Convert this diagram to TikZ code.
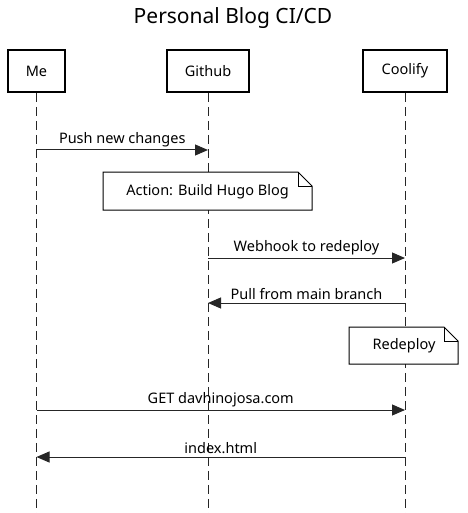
\documentclass[tikz,border=0pt]{standalone}
\usepackage{fontspec}
\setmainfont{Noto Sans}
\usetikzlibrary{calc, shapes, arrows.meta}

\begin{document}
\begin{tikzpicture}[x=1pt, y=-1pt,
actor/.style = {% participant boxes
    draw, line width=1.8pt, minimum width=57pt, minimum height=42pt,
    inner sep=0pt, font=\fontsize{14.5}{17}\selectfont,
            },
life/.style = {% lifelines
    draw=black!85, line width=1pt, dash pattern=on 9pt off 5pt,
            },
msg/.style = {% messages
    draw=black!85, line width=1pt, -{Triangle[length=13pt,width=11pt]},
            },
lbl/.style = {% message labels
    font=\fontsize{14.5}{17}\selectfont, inner sep=1pt,
            },
notetext/.style = {% note texts
    font=\fontsize{14.5}{17}\selectfont, inner sep=0pt,
            },
                        ]
\useasboundingbox (0,0) rectangle (467,513);
% title
\node[font=\fontsize{21}{25}\selectfont] (title) at (233,18) {Personal Blog CI/CD};
% participants
\node[actor] (me) at (36.5,71) {Me};
\node[actor, minimum width=82pt] (github) at (208,71) {Github};
\node[actor, minimum width=84pt] (coolify) at (405,71) {Coolify};
% lifelines
\foreach \p in {me, github, coolify}{
    \coordinate (\p-end) at (\p |- 0,513);
    \draw[life] (\p.south) -- (\p-end);
}
% notes
\draw[line width=1pt, fill=white] (103,172) -- (298,172) -- (312,186) -- (312,210) -- (103,210) -- cycle;
\draw[line width=1pt] (298,172) -- (298,186) -- (312,186);
\node[notetext] (build) at (207.5,192) {Action: Build Hugo Blog};
\draw[line width=1pt, fill=white] (349,327) -- (444,327) -- (458,341) -- (458,364) -- (349,364) -- cycle;
\draw[line width=1pt] (444,327) -- (444,341) -- (458,341);
\node[notetext] (redeploy) at (404,346) {Redeploy};
% message end points
\coordinate (push-a) at (me |- 0,150);
\coordinate (push-b) at (github |- 0,150);
\coordinate (hook-a) at (github |- 0,258);
\coordinate (hook-b) at (coolify |- 0,258);
\coordinate (pull-a) at (coolify |- 0,303);
\coordinate (pull-b) at (github |- 0,303);
\coordinate (get-a) at (me |- 0,410);
\coordinate (get-b) at (coolify |- 0,410);
\coordinate (index-a) at (coolify |- 0,457);
\coordinate (index-b) at (me |- 0,457);
% messages
\draw[msg] (push-a) -- node[lbl, above=2pt] {Push new changes} (push-b);
\draw[msg] (hook-a) -- node[lbl, above=2pt] {Webhook to redeploy} (hook-b);
\draw[msg] (pull-a) -- node[lbl, above=2pt] {Pull from main branch} (pull-b);
\draw[msg] (get-a) -- node[lbl, above=2pt] {GET davhinojosa.com} (get-b);
\draw[msg] (index-a) -- node[lbl, above=2pt] {index.html} (index-b);
\end{tikzpicture}
\end{document}
